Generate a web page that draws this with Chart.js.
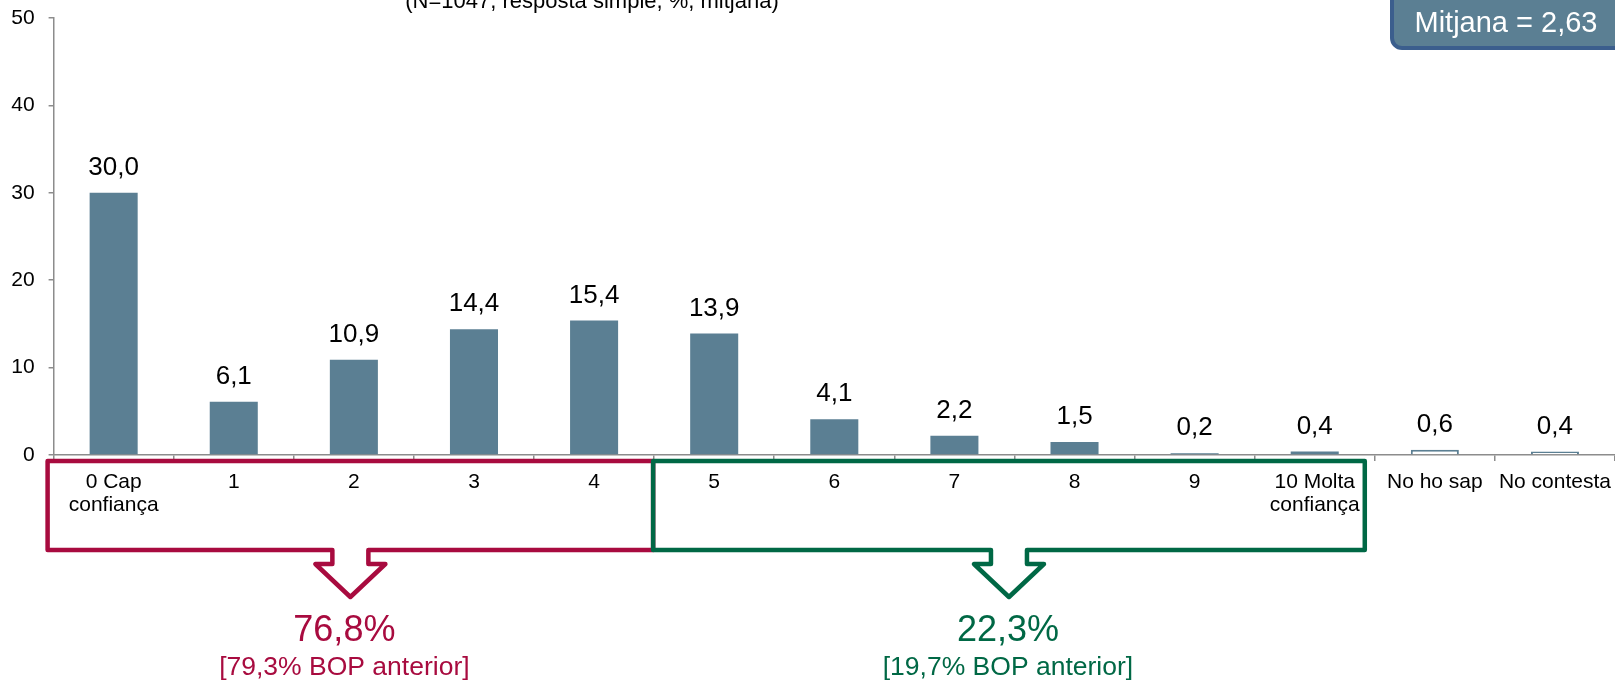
<!DOCTYPE html>
<html>
<head>
<meta charset="utf-8">
<script src="https://cdn.jsdelivr.net/npm/chart.js@4.4.1/dist/chart.umd.min.js"></script>
<style>
  html, body { margin: 0; padding: 0; background: #ffffff; }
  #wrap { position: relative; width: 1615px; height: 685px; }
</style>
</head>
<body>
<div id="wrap"><canvas id="c" width="1615" height="685"></canvas></div>
<script>
// ---- data ----
const categories = [['0 Cap', 'confiança'], '1', '2', '3', '4', '5', '6', '7', '8', '9', ['10 Molta', 'confiança'], 'No ho sap', 'No contesta'];
const values = [30.0, 6.1, 10.9, 14.4, 15.4, 13.9, 4.1, 2.2, 1.5, 0.2, 0.4, 0.6, 0.4];
const yTicks = [0, 10, 20, 30, 40, 50];
const titleText = '(N=1047, resposta simple, %, mitjana)';
const meanText = 'Mitjana = 2,63';
const groupRanges = [[0, 4], [5, 10]];
const groupTotals = ['76,8%', '22,3%'];
const groupPrevious = ['[79,3% BOP anterior]', '[19,7% BOP anterior]'];

const BAR = '#5B7F93';
const RED = '#A80B3F';
const GREEN = '#006845';
const FONT = '"Liberation Sans", Arial, sans-serif';

const fmt = v => v.toFixed(1).replace('.', ',');

const overlay = {
  id: 'overlay',
  afterDatasetsDraw(chart) {
    const ctx = chart.ctx;
    const meta = chart.getDatasetMeta(0);
    ctx.save();
    ctx.fillStyle = '#000';
    ctx.font = '26px ' + FONT;
    ctx.textAlign = 'center';
    ctx.textBaseline = 'middle';
    meta.data.forEach((bar, i) => {
      ctx.fillText(fmt(values[i]), bar.x, bar.y - 25);
    });
    ctx.restore();
  },
  afterDraw(chart) {
    const ctx = chart.ctx;
    const xs = chart.scales.x;
    const step = xs.getPixelForValue(1) - xs.getPixelForValue(0);
    const boundary = i => xs.getPixelForValue(i) - step / 2;
    ctx.save();
    // title (cut at top)
    ctx.fillStyle = '#000';
    ctx.font = '22px ' + FONT;
    ctx.textAlign = 'center';
    ctx.textBaseline = 'alphabetic';
    ctx.fillText(titleText, 592, 8);

    // mean box
    ctx.beginPath();
    ctx.roundRect(1392, -20, 260, 68, 10);
    ctx.fillStyle = BAR;
    ctx.fill();
    ctx.lineWidth = 4;
    ctx.strokeStyle = '#3B5E8D';
    ctx.stroke();
    ctx.fillStyle = '#fff';
    ctx.font = '29px ' + FONT;
    ctx.textAlign = 'center';
    ctx.textBaseline = 'middle';
    ctx.fillText(meanText, 1506, 24);

    // brackets
    const top = 461, bot = 550, wingY = 564, tipY = 597;
    const colors = [RED, GREEN];
    const mid = boundary(groupRanges[1][0]) - 1;
    const lefts = [boundary(groupRanges[0][0]) - 6, mid];
    const rights = [mid, boundary(groupRanges[1][1] + 1) - 10];
    const textShift = [-6, -1];
    for (let g = 0; g < 2; g++) {
      const L = lefts[g], R = rights[g], cx = (L + R) / 2;
      ctx.beginPath();
      ctx.moveTo(cx - 18, bot);
      ctx.lineTo(L, bot);
      ctx.lineTo(L, top);
      ctx.lineTo(R, top);
      ctx.lineTo(R, bot);
      ctx.lineTo(cx + 18, bot);
      ctx.lineTo(cx + 18, wingY);
      ctx.lineTo(cx + 35, wingY);
      ctx.lineTo(cx, tipY);
      ctx.lineTo(cx - 35, wingY);
      ctx.lineTo(cx - 18, wingY);
      ctx.closePath();
      ctx.lineWidth = 4.5;
      ctx.lineJoin = 'round';
      ctx.strokeStyle = colors[g];
      ctx.stroke();
      ctx.fillStyle = colors[g];
      ctx.textAlign = 'center';
      ctx.textBaseline = 'middle';
      ctx.font = '36px ' + FONT;
      ctx.fillText(groupTotals[g], cx + textShift[g], 631);
      ctx.font = '26.5px ' + FONT;
      ctx.fillText(groupPrevious[g], cx + textShift[g], 668);
    }
    ctx.restore();
  }
};

new Chart(document.getElementById('c'), {
  type: 'bar',
  data: {
    labels: categories,
    datasets: [{
      data: values,
      backgroundColor: values.map((v, i) => i >= 11 ? '#FFFFFF' : BAR),
      borderColor: BAR,
      borderWidth: values.map((v, i) => i >= 11 ? 2 : 0),
      barPercentage: 0.4,
      categoryPercentage: 1.0
    }]
  },
  options: {
    responsive: false,
    animation: false,
    devicePixelRatio: 1,
    layout: { padding: { top: 18, left: 0, right: -2, bottom: 0 } },
    plugins: { legend: { display: false }, tooltip: { enabled: false }, title: { display: false } },
    scales: {
      x: {
        offset: true,
        grid: { display: true, drawOnChartArea: false, drawTicks: true, tickLength: 6, color: '#8C8C8C', lineWidth: 1.5, offset: true },
        border: { display: true, color: '#8C8C8C', width: 1.5 },
        ticks: { color: '#000', font: { family: FONT, size: 21, lineHeight: 1.12 }, padding: 9, autoSkip: false, maxRotation: 0, minRotation: 0 },
        afterFit: s => { s.height = 230; s.paddingLeft = 0; s.paddingRight = 0; }
      },
      y: {
        min: 0, max: 50,
        afterBuildTicks: s => { s.ticks = yTicks.map(v => ({ value: v })); },
        grid: { display: true, drawOnChartArea: false, drawTicks: true, tickLength: 5, color: '#8C8C8C', lineWidth: 1.5 },
        border: { display: true, color: '#8C8C8C', width: 1.5 },
        ticks: { color: '#000', font: { family: FONT, size: 21 }, padding: 14 },
        afterFit: s => { s.width = 53.6; s.paddingTop = 0; s.paddingBottom = 0; }
      }
    }
  },
  plugins: [overlay]
});
</script>
</body>
</html>
